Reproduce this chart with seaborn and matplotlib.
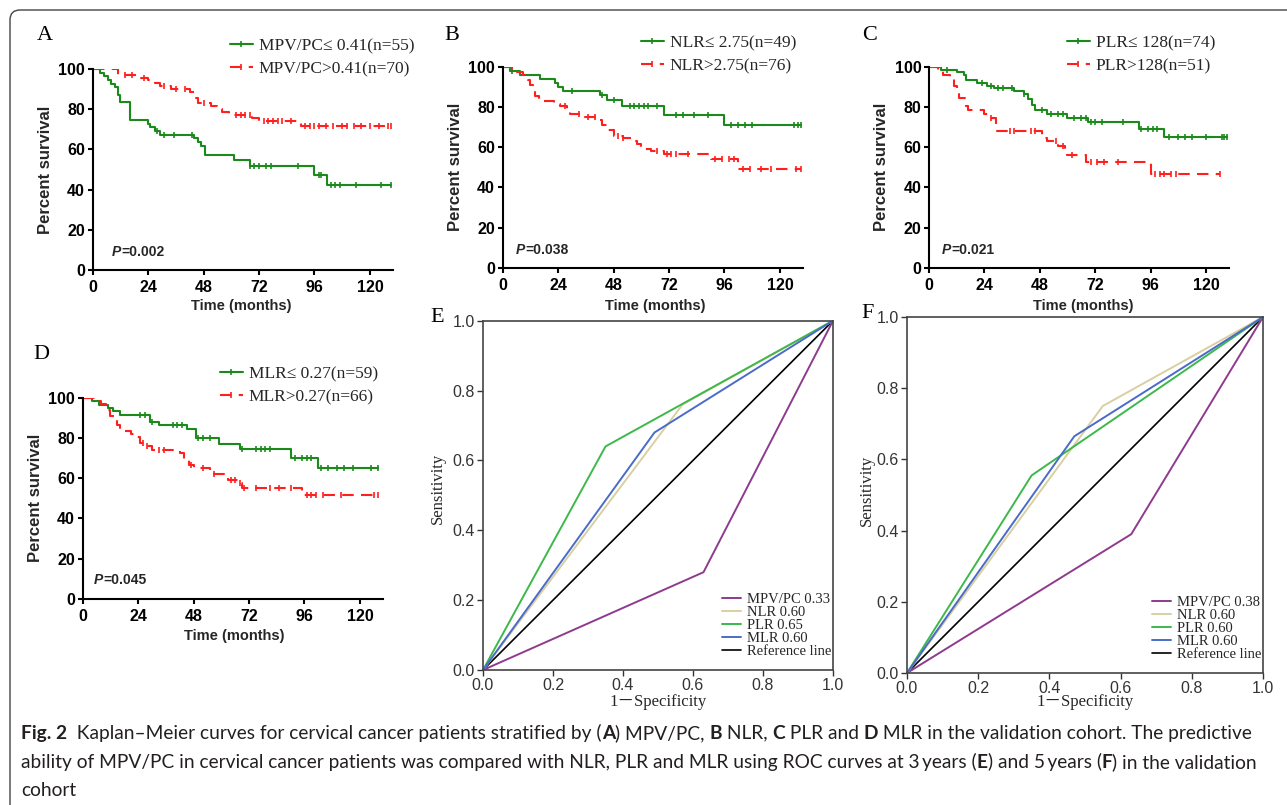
import numpy as np
import matplotlib
matplotlib.use("Agg")
import matplotlib.pyplot as plt
import seaborn as sns
from matplotlib.lines import Line2D
from matplotlib.patches import FancyBboxPatch
from matplotlib.transforms import IdentityTransform

# ---- Kaplan-Meier data (time in months, percent survival, censor times) ----
a_lo_t = [0, 3, 5, 6.5, 8, 9.5, 11, 12, 16, 24, 25, 27, 29, 44, 45.5, 47, 48.5, 61, 68, 96, 101.5]
a_lo_s = [100, 98.2, 96.4, 94.5, 92.7, 90.9, 87.3, 83.6, 74.5, 72.7, 70.9, 69.1, 67.3, 65.5, 63.6, 61.8, 57.3, 54.5, 51.7, 47.5, 42.4]
a_lo_c = [28, 31, 35, 43, 68, 70, 72, 75, 77, 89, 98, 99, 103, 105, 107, 114, 125, 129]
a_hi_t = [0, 11, 19, 24, 27, 29, 34, 42, 44, 45.5, 51, 54, 56, 59, 69, 72, 90]
a_hi_s = [100, 97.1, 95.7, 94.3, 92.9, 91.4, 90, 88.6, 85.7, 82.9, 81.4, 80, 78.6, 77.1, 75.7, 74.3, 71.4]
a_hi_c = [14, 17, 22, 31, 36, 40, 48, 62, 64, 66, 68, 74, 76, 78, 80, 82, 86, 92, 94, 96,
          98, 101, 104, 108, 110, 113, 116, 120, 124, 128, 129]

b_lo_t = [0, 3, 7.5, 16, 22.5, 24, 26, 42, 45, 51.5, 70, 96]
b_lo_s = [100, 98, 95.9, 93.9, 91.8, 89.8, 87.8, 85.7, 83.6, 80.4, 76.1, 70.9]
b_lo_c = [4, 30, 43, 48, 55, 57, 59, 61, 63, 67, 75, 78, 83, 89, 99, 102, 105, 108, 126, 128, 129]
b_hi_t = [0, 4, 6, 9, 11, 12, 13, 14, 15.5, 22, 25, 28, 29, 35, 41, 43, 45, 48, 52, 56, 58, 60, 64, 70, 90, 102]
b_hi_s = [100, 98.7, 97.4, 96.1, 93.4, 90.8, 88.2, 85.5, 82.9, 81.6, 80.3, 77.6, 76.3, 75, 73.7, 71.1,
          68.4, 65.8, 64.5, 63.2, 61.8, 59.2, 57.9, 56.6, 54, 49.4]
b_hi_c = [27, 33, 37, 40, 50, 52, 67, 71, 73, 75, 80, 92, 95, 98, 100, 104, 107, 112, 116, 127, 129]

c_lo_t = [0, 5, 12, 15, 16, 21, 25, 28, 37, 41, 43, 44.5, 46, 51, 60, 69, 91, 102]
c_lo_s = [100, 98.6, 97.3, 95.9, 93.2, 91.9, 90.5, 89.2, 87.8, 86.5, 83.8, 81.1, 78.4, 76.4, 74.5, 72.4, 69.1, 65.2]
c_lo_c = [8, 23, 27, 30, 32, 36, 41, 49, 53, 56, 58, 63, 66, 68, 70, 72, 75, 84, 92, 95, 97,
          99, 104, 108, 111, 114, 120, 127, 128, 129]
c_hi_t = [0, 4, 6, 9, 11, 12, 13, 16, 17, 24, 27, 29, 49, 51, 56, 59, 60, 68, 96]
c_hi_s = [100, 98, 96.1, 94.1, 90.2, 86.3, 84.3, 80.4, 78.4, 76.5, 74.5, 68.2, 64.5, 63, 60.8, 57.1, 56.2, 52.9, 46.8]
c_hi_c = [27, 35, 37, 44, 46, 55, 58, 62, 70, 73, 76, 82, 98, 100, 102, 105, 107, 126]

d_lo_t = [0, 4, 7, 11, 13, 16, 29, 33, 45, 49, 59, 68, 90, 102]
d_lo_s = [100, 98.3, 96.6, 94.9, 93.2, 91.5, 88.1, 86.2, 84.3, 80.2, 76.9, 74.4, 70.2, 65.3]
d_lo_c = [25, 27, 30, 39, 41, 43, 50, 52, 55, 69, 75, 77, 79, 81, 92, 95, 97, 99, 103, 106,
          110, 113, 117, 125, 128]
d_hi_t = [0, 5, 8, 10, 11, 12, 14, 15, 16, 21, 23, 25, 28, 30, 42, 44, 46, 48, 55, 57, 61, 63, 68, 69, 95]
d_hi_s = [100, 98.5, 97, 95.5, 93.9, 90.9, 89.4, 86.4, 83.3, 81.8, 80.3, 77.3, 75.8, 74.2, 72.7, 69.7,
          66.7, 65.2, 63.6, 62.1, 60.6, 59.1, 57.6, 55.3, 51.7]
d_hi_c = [26, 28, 33, 35, 47, 52, 57, 64, 66, 68, 70, 75, 81, 85, 90, 97, 99, 101, 104, 112, 126, 128]

km_labels = {
    "A": ["MPV/PC\u2264 0.41(n=55)", "MPV/PC>0.41(n=70)"],
    "B": ["NLR\u2264 2.75(n=49)", "NLR>2.75(n=76)"],
    "C": ["PLR\u2264 128(n=74)", "PLR>128(n=51)"],
    "D": ["MLR\u2264 0.27(n=59)", "MLR>0.27(n=66)"],
}
km_pvals = {"A": "=0.002", "B": "=0.038", "C": "=0.021", "D": "=0.045"}

# ---- ROC data ----
roc_names = ["MPV/PC", "NLR", "PLR", "MLR"]
e_auc = ["0.33", "0.60", "0.65", "0.60"]
e_fpr = [[0, 0.63, 1], [0, 0.57, 1], [0, 0.35, 1], [0, 0.49, 1]]
e_tpr = [[0, 0.28, 1], [0, 0.76, 1], [0, 0.64, 1], [0, 0.68, 1]]
f_auc = ["0.38", "0.60", "0.60", "0.60"]
f_fpr = [[0, 0.63, 1], [0, 0.55, 1], [0, 0.35, 1], [0, 0.47, 1]]
f_tpr = [[0, 0.39, 1], [0, 0.75, 1], [0, 0.555, 1], [0, 0.665, 1]]
roc_colors = ["#8E3A8E", "#D9CFA2", "#3DB84A", "#4A6BC9"]

GREEN = "#1B8A1B"
RED = "#FF1F1F"
DASH = (0, (5.5, 3.5))
SERIF = "Liberation Serif"
SANS = "Liberation Sans"

sns.set_theme(style="white")
plt.rcParams["font.family"] = [SANS, "DejaVu Sans"]
plt.rcParams["axes.unicode_minus"] = False

W, H = 1287, 805
fig = plt.figure(figsize=(W / 100, H / 100), dpi=100)
fig.patch.set_facecolor("white")


def add_ax(l, t, r, b):
    return fig.add_axes([l / W, 1 - b / H, (r - l) / W, (b - t) / H])


def letter(x, y, s):
    fig.text(x / W, 1 - y / H, s, ha="center", va="center", family=SERIF, fontsize=16, color="black")


def km_panel(box, key, groups, leg_xy, p_xy, ylab_xy, xlab_xy):
    ax = add_ax(*box)
    for t, s, cens, color, ls in groups:
        tt = list(t) + [max(cens[-1], t[-1])]
        ss = list(s) + [s[-1]]
        sns.lineplot(x=tt, y=ss, drawstyle="steps-post", color=color, linestyle=ls, lw=1.5,
                     estimator=None, sort=False, ax=ax)
        idx = np.searchsorted(t, cens, side="right") - 1
        ax.plot(cens, np.array(s)[idx], ls="none", marker="|", ms=5, mew=1.2, color=color)
    ax.set_xlim(0, 130)
    ax.set_ylim(0, 100)
    ax.set_xticks(range(0, 121, 24))
    ax.set_yticks(range(0, 101, 20))
    for lab in ax.get_xticklabels() + ax.get_yticklabels():
        lab.set_fontweight("bold")
    ax.tick_params(axis="both", which="major", direction="out", length=3.5, width=1.5,
                   labelsize=11.5, pad=2, left=True, bottom=True, colors="black")
    ax.tick_params(axis="x", pad=4)
    sns.despine(ax=ax)
    for sp in ("left", "bottom"):
        ax.spines[sp].set_linewidth(1.5)
        ax.spines[sp].set_color("black")
    ax.set_ylabel("Percent survival", fontsize=12, fontweight="bold")
    ax.set_xlabel("Time (months)", fontsize=10.5, fontweight="bold")
    ax.yaxis.set_label_coords(ylab_xy[0], H - ylab_xy[1], transform=IdentityTransform())
    ax.xaxis.set_label_coords(xlab_xy[0], H - xlab_xy[1], transform=IdentityTransform())
    px, py = p_xy
    ax.text(px, py, "P", fontsize=10, fontweight="bold", fontstyle="italic", va="center", ha="left")
    ax.annotate(km_pvals[key], xy=(px, py), xytext=(6.8, 0), textcoords="offset points",
                fontsize=10, fontweight="bold", va="center", ha="left")
    handles = [Line2D([], [], color=GREEN, lw=1.5, marker="|", ms=5, mew=1.2),
               Line2D([], [], color=RED, lw=1.5, ls=DASH, marker="|", ms=5, mew=1.2)]
    ax.legend(handles, km_labels[key], loc="upper left",
              bbox_to_anchor=(leg_xy[0] / W, 1 - leg_xy[1] / H), bbox_transform=fig.transFigure,
              frameon=False, prop={"family": SERIF, "size": 12.5}, handlelength=1.3,
              handletextpad=0.35, labelspacing=0.4, borderpad=0, borderaxespad=0, numpoints=1)
    return ax


def roc_panel(box, fprs, tprs, aucs, leg_xy, ylab_xy, xlab_xy):
    ax = add_ax(*box)
    sns.lineplot(x=[0, 1], y=[0, 1], color="black", lw=1.2, estimator=None, sort=False, ax=ax)
    handles, labels = [], []
    for name, fx, ty, auc, col in zip(roc_names, fprs, tprs, aucs, roc_colors):
        sns.lineplot(x=fx, y=ty, color=col, lw=1.4, estimator=None, sort=False, ax=ax)
        handles.append(Line2D([], [], color=col, lw=1.4))
        labels.append(f"{name} {auc}")
    handles.append(Line2D([], [], color="black", lw=1.2))
    labels.append("Reference line")
    ax.set_xlim(0, 1)
    ax.set_ylim(0, 1)
    ticks = np.arange(0, 1.01, 0.2)
    ax.set_xticks(ticks)
    ax.set_yticks(ticks)
    ax.set_xticklabels([f"{v:.1f}" for v in ticks])
    ax.set_yticklabels([f"{v:.1f}" for v in ticks])
    ax.tick_params(axis="both", direction="out", length=4, width=1.0, labelsize=11.5, pad=2,
                   left=True, bottom=True, colors="#333333")
    for sp in ax.spines.values():
        sp.set_visible(True)
        sp.set_linewidth(1.2)
        sp.set_color("#444444")
    ax.set_ylabel("Sensitivity", family=SERIF, fontsize=12)
    ax.set_xlabel("1\uff0dSpecificity", family=[SERIF, "Noto Sans CJK SC"], fontsize=12)
    ax.yaxis.set_label_coords(ylab_xy[0], H - ylab_xy[1], transform=IdentityTransform())
    ax.xaxis.set_label_coords(xlab_xy[0], H - xlab_xy[1], transform=IdentityTransform())
    ax.legend(handles, labels, loc="upper left",
              bbox_to_anchor=(leg_xy[0] / W, 1 - leg_xy[1] / H), bbox_transform=fig.transFigure,
              frameon=False, prop={"family": SERIF, "size": 10.5}, handlelength=1.3,
              handletextpad=0.4, labelspacing=-0.02, borderpad=0, borderaxespad=0)
    return ax


km_panel((92.7, 69, 393, 270), "A",
         [(a_lo_t, a_lo_s, a_lo_c, GREEN, "-"), (a_hi_t, a_hi_s, a_hi_c, RED, DASH)],
         (230, 38), (8.4, 9), (53, 170), (241, 299))
km_panel((502.7, 66.7, 803, 268), "B",
         [(b_lo_t, b_lo_s, b_lo_c, GREEN, "-"), (b_hi_t, b_hi_s, b_hi_c, RED, DASH)],
         (641, 35), (5.8, 9), (463, 167), (655, 299))
km_panel((929, 66.7, 1229, 268), "C",
         [(c_lo_t, c_lo_s, c_lo_c, GREEN, "-"), (c_hi_t, c_hi_s, c_hi_c, RED, DASH)],
         (1067, 35), (5.6, 9), (889, 167), (1083, 299))
km_panel((82.7, 397.7, 383, 599), "D",
         [(d_lo_t, d_lo_s, d_lo_c, GREEN, "-"), (d_hi_t, d_hi_s, d_hi_c, RED, DASH)],
         (220, 366), (4.9, 9.4), (43, 498), (234, 629))

roc_panel((483, 320.7, 833, 670), e_fpr, e_tpr, e_auc, (722, 593), (446, 488), (658, 694))
roc_panel((907, 317, 1263, 673), f_fpr, f_tpr, f_auc, (1152, 596), (875, 490), (1085, 694))

letter(45, 35, "A")
letter(452, 36, "B")
letter(870, 36, "C")
letter(41, 354, "D")
letter(437, 317, "E")
letter(868, 313, "F")

# ---- caption with bold runs ----
CAP_FONT = ["Lato", "DejaVu Sans"]
CAP_COL = "#231F20"
cap_lines = [
    [("Fig. 2", True), ("  Kaplan\u2013Meier curves for cervical cancer patients stratified by (", False),
     ("A", True), (") MPV/PC, ", False), ("B", True), (" NLR, ", False), ("C", True),
     (" PLR and ", False), ("D", True), (" MLR in the validation cohort. The predictive", False)],
    [("ability of MPV/PC in cervical cancer patients was compared with NLR, PLR and MLR using ROC curves at 3\u2009years (", False),
     ("E", True), (") and 5\u2009years (", False), ("F", True), (") in the validation", False)],
    [("cohort", False)],
]
cap_y = [733, 762, 790]
renderer = fig.canvas.get_renderer()


def run_width(txt, bold, size):
    kw = dict(fontsize=size, fontweight="bold" if bold else "normal", family=CAP_FONT)
    t1 = fig.text(0, 0, "|" + txt + "|", **kw)
    t2 = fig.text(0, 0, "||", **kw)
    w = t1.get_window_extent(renderer).width - t2.get_window_extent(renderer).width
    t1.remove()
    t2.remove()
    return w


size = 10.0
line1_w = sum(run_width(t, b, size) for t, b in cap_lines[0])
size = size * (1233 / line1_w)

for runs, y in zip(cap_lines, cap_y):
    x = 21
    for txt, bold in runs:
        fig.text(x / W, 1 - y / H, txt, fontsize=size, fontweight="bold" if bold else "normal",
                 family=CAP_FONT, color=CAP_COL, va="center", ha="left")
        x += run_width(txt, bold, size)

frame = FancyBboxPatch((10, -30), 1320, H - 10 + 30, boxstyle="round,pad=0,rounding_size=10",
                       transform=IdentityTransform(), facecolor="none", edgecolor="#444444", lw=1.0)
fig.add_artist(frame)

fig.savefig("out.png", dpi=100, facecolor="white")
